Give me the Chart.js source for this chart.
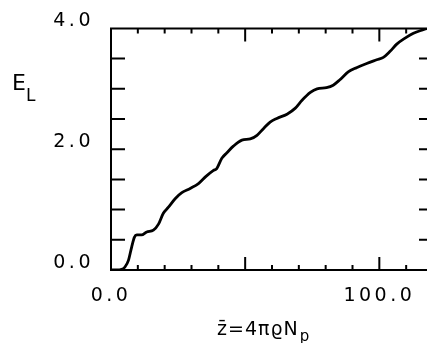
<!DOCTYPE html>
<html>
<head>
<meta charset="utf-8">
<script src="https://cdn.jsdelivr.net/npm/chart.js@4.4.1/dist/chart.umd.min.js"></script>
<style>
  html, body { margin: 0; padding: 0; background: #fff; overflow: hidden; }
  #clip { width: 427px; height: 343px; overflow: hidden; position: relative; }
  #wrap { width: 434px; height: 343px; position: absolute; left: 0; top: 0; }
</style>
</head>
<body>
<div id="clip"><div id="wrap"><canvas id="c"></canvas></div></div>
<script>
// ---- data ----
const zValues = [0, 2, 4, 5.2, 6.5, 7.7, 8.7, 9.6, 11.4, 13.3, 15.8, 17.7, 19.5, 21.4, 23.9, 26.4, 29.5, 32.6, 35.4, 38.2, 39.4, 41.3, 43.2, 45.6, 48.8, 51.9, 54.4, 56.8, 59.3, 61.8, 65.6, 68.7, 71.2, 74.3, 76.8, 80.3, 82.8, 85.3, 88.4, 91.5, 95.3, 99.0, 101.5, 104.0, 106.5, 109.6, 112.7, 115.8, 117.8];
const eValues = [0, 0, 0.01, 0.05, 0.16, 0.38, 0.54, 0.58, 0.58, 0.63, 0.66, 0.76, 0.94, 1.04, 1.18, 1.28, 1.35, 1.43, 1.55, 1.65, 1.68, 1.85, 1.94, 2.05, 2.15, 2.17, 2.23, 2.34, 2.45, 2.51, 2.58, 2.68, 2.81, 2.94, 3.0, 3.02, 3.06, 3.15, 3.28, 3.35, 3.42, 3.48, 3.52, 3.62, 3.74, 3.84, 3.92, 3.97, 4.0];

// ---- tick labels & tick marks ----
const xLabelValues = [0, 100];
const yLabelValues = [0, 2, 4];
const xMajorTicks = [50, 100];
const xMinorTicks = [10, 20, 30, 40, 60, 70, 80, 90, 110];
const yTicks = [0.5, 1.0, 1.5, 2.0, 2.5, 3.0, 3.5];
const xTitle = "z\u0304=4\u03C0\u03F1N";
const xTitleSub = "p";
const yTitle = "E";
const yTitleSub = "L";

const FONT = "'DejaVu Sans', sans-serif";

const framePlugin = {
  id: 'frame',
  beforeDraw(chart) {
    chart.ctx.letterSpacing = '3.5px';
  },
  afterDraw(chart) {
    const ctx = chart.ctx;
    const a = chart.chartArea;
    const xs = chart.scales.x, ys = chart.scales.y;
    ctx.save();
    ctx.letterSpacing = '0px';
    ctx.strokeStyle = '#000';
    ctx.lineWidth = 2;
    ctx.beginPath();
    ctx.rect(a.left, a.top, a.right - a.left, a.bottom - a.top);
    ctx.stroke();
    ctx.beginPath();
    const tick = (x1, y1, x2, y2) => { ctx.moveTo(x1, y1); ctx.lineTo(x2, y2); };
    xMajorTicks.forEach(v => {
      const x = xs.getPixelForValue(v);
      tick(x, a.bottom, x, a.bottom - 13);
      tick(x, a.top, x, a.top + 13);
    });
    xMinorTicks.forEach(v => {
      const x = xs.getPixelForValue(v);
      tick(x, a.bottom, x, a.bottom - 5);
      tick(x, a.top, x, a.top + 5);
    });
    yTicks.forEach(v => {
      const y = ys.getPixelForValue(v);
      tick(a.left, y, a.left + 14, y);
      tick(a.right, y, a.right - 14, y);
    });
    ctx.stroke();

    // axis titles
    ctx.fillStyle = '#000';
    ctx.textBaseline = 'alphabetic';
    ctx.textAlign = 'left';
    ctx.letterSpacing = '1px';
    ctx.font = "22px " + FONT;
    ctx.fillText(yTitle, 12, 90);
    ctx.font = "17px " + FONT;
    ctx.fillText(yTitleSub, 26, 101);
    ctx.font = "19px " + FONT;
    ctx.fillText(xTitle, 217, 335);
    const w = ctx.measureText(xTitle).width;
    ctx.font = "15px " + FONT;
    ctx.fillText(xTitleSub, 217 + w + 1, 341);
    ctx.restore();
  }
};

new Chart(document.getElementById('c'), {
  type: 'line',
  data: {
    datasets: [{
      data: zValues.map((z, i) => ({ x: z, y: eValues[i] })),
      borderColor: '#000',
      borderWidth: 2.8,
      pointRadius: 0,
      fill: false,
      cubicInterpolationMode: 'monotone'
    }]
  },
  options: {
    responsive: true,
    maintainAspectRatio: false,
    animation: false,
    layout: { padding: { top: 28, right: 1, bottom: 0, left: 0 } },
    plugins: { legend: { display: false }, tooltip: { enabled: false } },
    scales: {
      x: {
        type: 'linear',
        min: 0, max: 120,
        grid: { display: false, drawTicks: false },
        border: { display: false },
        afterBuildTicks: s => { s.ticks = xLabelValues.map(v => ({ value: v })); },
        afterFit: s => { s.height = 73; },
        ticks: {
          autoSkip: false,
          maxRotation: 0,
          padding: 15,
          color: '#000',
          font: { family: FONT, size: 19 },
          callback: v => Number(v).toFixed(1)
        }
      },
      y: {
        type: 'linear',
        min: 0, max: 4,
        grid: { display: false, drawTicks: false },
        border: { display: false },
        afterBuildTicks: s => { s.ticks = yLabelValues.map(v => ({ value: v })); },
        afterFit: s => { s.width = 111; },
        ticks: {
          autoSkip: false,
          padding: 17,
          labelOffset: -7,
          color: '#000',
          font: { family: FONT, size: 19 },
          callback: v => Number(v).toFixed(1)
        }
      }
    }
  },
  plugins: [framePlugin]
});
</script>
</body>
</html>
